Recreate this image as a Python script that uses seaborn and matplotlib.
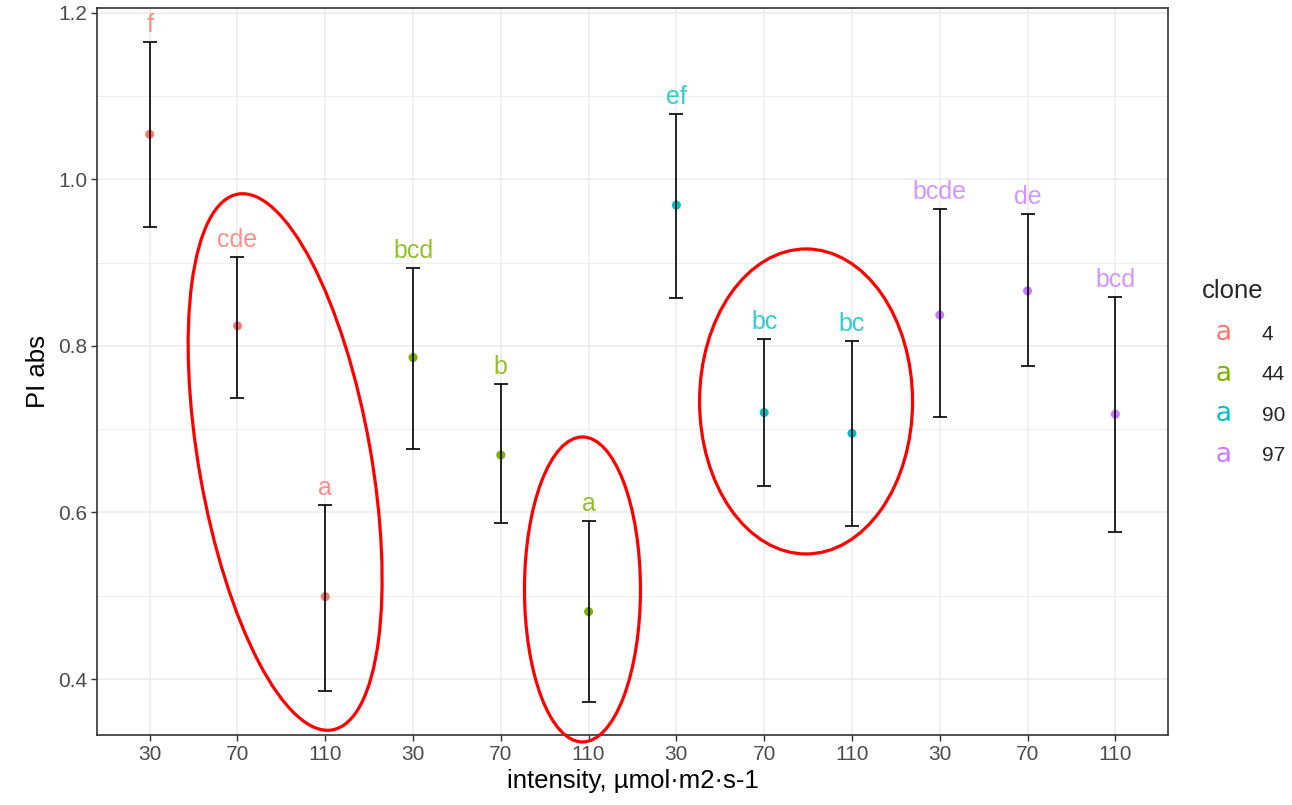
import numpy as np
import pandas as pd
import matplotlib
matplotlib.use("Agg")
import matplotlib.pyplot as plt
import matplotlib.transforms as mtransforms
from matplotlib.patches import Ellipse
from matplotlib.lines import Line2D
from matplotlib.ticker import MultipleLocator, AutoMinorLocator
import seaborn as sns

# datos
clone = ["4", "4", "4", "44", "44", "44", "90", "90", "90", "97", "97", "97"]
intensity = ["30", "70", "110", "30", "70", "110", "30", "70", "110", "30", "70", "110"]
pi_mean = [1.054, 0.824, 0.499, 0.786, 0.669, 0.481, 0.969, 0.720, 0.695, 0.837, 0.866, 0.718]
pi_low = [0.943, 0.737, 0.386, 0.676, 0.587, 0.372, 0.858, 0.632, 0.584, 0.715, 0.776, 0.577]
pi_high = [1.165, 0.907, 0.609, 0.894, 0.754, 0.590, 1.078, 0.808, 0.806, 0.964, 0.958, 0.859]
letras = ["f", "cde", "a", "bcd", "b", "a", "ef", "bc", "bc", "bcde", "de", "bcd"]

clones = ["4", "44", "90", "97"]
colores = ["#F8766D", "#7CAE00", "#00BFC4", "#C77CFF"]
paleta = dict(zip(clones, colores))

df = pd.DataFrame({"clone": clone, "intensity": intensity, "PI": pi_mean,
                   "low": pi_low, "high": pi_high, "letra": letras})
df["pos"] = np.arange(len(df))

sns.set_theme(style="whitegrid")
plt.rcParams["font.family"] = ["Liberation Sans", "DejaVu Sans"]

fig = plt.figure(figsize=(12.92, 8.05), dpi=100)
ax = fig.add_axes([97 / 1292, 70 / 805, (1168 - 97) / 1292, (735 - 8) / 805])

sns.scatterplot(data=df, x="pos", y="PI", hue="clone", palette=paleta,
                s=42, edgecolor="none", legend=False, zorder=2, ax=ax)
ax.errorbar(df["pos"], df["PI"], yerr=[df["PI"] - df["low"], df["high"] - df["PI"]],
            fmt="none", ecolor="black", elinewidth=1.2, capsize=5, capthick=1.2, zorder=3)

for _, r in df.iterrows():
    ax.text(r["pos"], r["high"] + 0.012, r["letra"], color=paleta[r["clone"]],
            alpha=0.8, fontsize=18, ha="center", va="baseline", zorder=4)

ax.set_xlim(-0.6, len(df) - 0.4)
ax.set_ylim(0.3329, 1.2056)
ax.set_xticks(df["pos"])
ax.set_xticklabels(df["intensity"])
ax.yaxis.set_major_locator(MultipleLocator(0.2))
ax.yaxis.set_minor_locator(AutoMinorLocator(2))
ax.yaxis.set_major_formatter(matplotlib.ticker.FormatStrFormatter("%.1f"))

ax.set_facecolor("white")
ax.grid(True, which="major", color="#EBEBEB", linewidth=1.1)
ax.grid(True, which="minor", axis="y", color="#EBEBEB", linewidth=0.6)
ax.set_axisbelow(True)
for s in ax.spines.values():
    s.set_color("#333333")
    s.set_linewidth(1.2)
ax.tick_params(axis="both", which="major", direction="out", length=4, width=1,
               color="#333333", labelcolor="#4D4D4D", labelsize=15, pad=3, left=True, bottom=True)
ax.tick_params(axis="y", which="minor", length=0)

ax.set_xlabel("intensity, µmol·m2·s-1", fontsize=18.5, color="black", labelpad=4)
ax.set_ylabel("PI abs", fontsize=18.5, color="black", labelpad=6)

# elipses rojas de anotacion (centro en datos, tamano en pulgadas)
elipses = [(1.543, 0.6606, 1.72, 5.44, 10), (4.93, 0.5076, 1.16, 3.05, 0),
           (7.477, 0.7333, 2.13, 3.05, 0)]
for cx, cy, w, h, ang in elipses:
    tr = fig.dpi_scale_trans + mtransforms.ScaledTranslation(cx, cy, ax.transData)
    e = Ellipse((0, 0), w, h, angle=ang, transform=tr, fill=False,
                edgecolor="#FF0000", linewidth=2.3, clip_on=False, zorder=5)
    ax.add_patch(e)

handles = [Line2D([], [], marker=r"$\mathrm{a}$", linestyle="None", color=c,
                  markersize=11, markeredgewidth=0) for c in colores]
fig.legend(handles, clones, title="clone", loc="upper left",
           bbox_to_anchor=(1194 / 1292, 1 - 271 / 805), frameon=False,
           alignment="left", fontsize=15, title_fontsize=18.5,
           labelspacing=1.03, handletextpad=0.85, borderaxespad=0)

fig.savefig("out.png", dpi=100)
